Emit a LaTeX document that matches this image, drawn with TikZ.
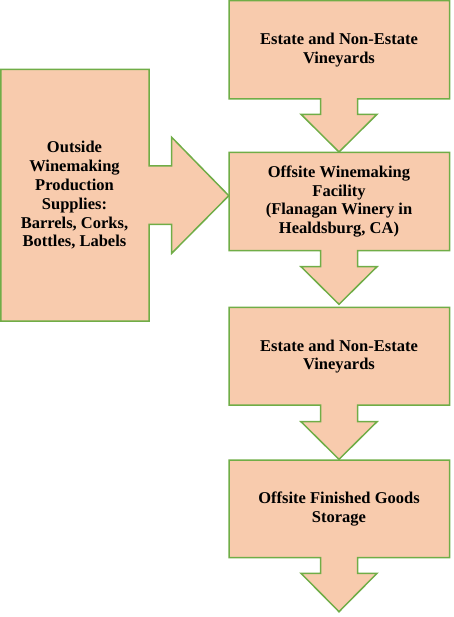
\documentclass[tikz,border=0pt]{standalone}
\usepackage{fontspec}
\setmainfont{Liberation Serif}
\definecolor{peach}{HTML}{F8CBAD}
\definecolor{edgegreen}{HTML}{70AD47}
\begin{document}
\begin{tikzpicture}[x=1pt,y=-1pt,
  callout/.style={fill=peach,draw=edgegreen,line width=1.5pt,line join=miter},
  lbl/.style={font=\fontsize{16.5}{18.8}\selectfont\bfseries,align=center,text=black}]
\useasboundingbox (0,0) rectangle (453,617);
% top box with down arrow
\draw[callout] (229,0.75) -- (449.5,0.75) -- (449.5,99) -- (357.5,99) -- (357.5,114.3) -- (377,114.3) -- (339,152) -- (301,114.3) -- (320.5,114.3) -- (320.5,99) -- (229,99) -- cycle;
% left box with right arrow
\draw[callout] (0.75,69.3) -- (149,69.3) -- (149,166) -- (171.7,166) -- (171.7,137.3) -- (228.8,195.7) -- (171.7,253.3) -- (171.7,224.3) -- (149,224.3) -- (149,321) -- (0.75,321) -- cycle;
% second box
\draw[callout] (229,152.5) -- (449.5,152.5) -- (449.5,250.7) -- (357.5,250.7) -- (357.5,266.7) -- (377,266.7) -- (339,304.3) -- (301,266.7) -- (320.5,266.7) -- (320.5,250.7) -- (229,250.7) -- cycle;
% third box
\draw[callout] (229,307.3) -- (449.5,307.3) -- (449.5,405) -- (357.5,405) -- (357.5,421.7) -- (377,421.7) -- (339,459.3) -- (301,421.7) -- (320.5,421.7) -- (320.5,405) -- (229,405) -- cycle;
% fourth box
\draw[callout] (229,460) -- (449.5,460) -- (449.5,557.7) -- (357.5,557.7) -- (357.5,573.3) -- (377,573.3) -- (339,611.7) -- (301,573.3) -- (320.5,573.3) -- (320.5,557.7) -- (229,557.7) -- cycle;
% labels
\node[lbl] (t1) at (339,50) {Estate and Non-Estate\\Vineyards};
\node[lbl] (t2) at (339,201.5) {Offsite Winemaking\\Facility\\(Flanagan Winery in\\Healdsburg, CA)};
\node[lbl] (t3) at (339,356.5) {Estate and Non-Estate\\Vineyards};
\node[lbl] (t4) at (339,509) {Offsite Finished Goods\\Storage};
\node[lbl] (t5) at (74.5,195.5) {Outside\\Winemaking\\Production\\Supplies:\\Barrels, Corks,\\Bottles, Labels};
\end{tikzpicture}
\end{document}
